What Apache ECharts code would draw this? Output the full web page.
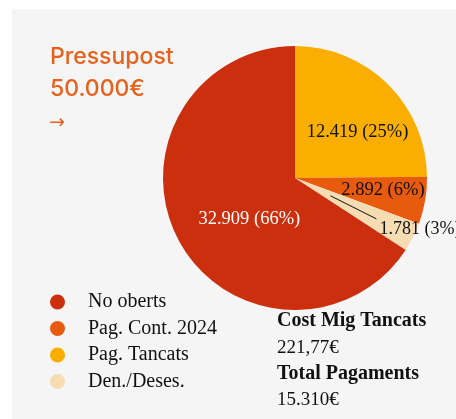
<!DOCTYPE html>
<html>
<head>
<meta charset="utf-8">
<script src="https://cdn.jsdelivr.net/npm/echarts@6/dist/echarts.min.js"></script>
<style>
html,body{margin:0;padding:0;background:#fff;}
#c{width:456px;height:419px;}
</style>
</head>
<body>
<div id="c"></div>
<script>
// Data (clockwise from top)
var categories = ['Pag. Tancats', 'Pag. Cont. 2024', 'Den./Deses.', 'No oberts'];
var values = [12419, 2892, 1781, 32909];
var valueLabels = ['12.419', '2.892', '1.781', '32.909'];
var percentLabels = ['25%', '6%', '3%', '66%'];
var legendOrder = ['No oberts', 'Pag. Cont. 2024', 'Pag. Tancats', 'Den./Deses.'];
var titleLines = ['Pressupost', '50.000€', '→'];
var infoLabels = ['Cost Mig Tancats', '221,77€', 'Total Pagaments', '15.310€'];

var colors = ['#f9ae00', '#e85a0e', '#f6dcb2', '#cb2f0e'];
var CENTER = [295, 178], R = 132;
var SERIF = '"Liberation Serif", "DejaVu Serif", serif';
var SANS = 'Inter, "Noto Sans", sans-serif';
var OUTSIDE_IDX = 2;

var total = values.reduce(function(a,b){return a+b;},0);
function midAngle(i){
  var start = 90, acc = 0;
  for (var k=0;k<i;k++) acc += values[k];
  var a0 = start - acc/total*360;
  var a1 = start - (acc+values[i])/total*360;
  return (a0+a1)/2*Math.PI/180;
}
function ptAt(i, f){
  var a = midAngle(i);
  return [CENTER[0] + Math.cos(a)*R*f, CENTER[1] - Math.sin(a)*R*f];
}
function fmt(p){ return valueLabels[p.dataIndex] + ' (' + percentLabels[p.dataIndex] + ')'; }

var labelOffsets = [[14,3],[20,0],[0,0],[15,8]];
var mainData = categories.map(function(c,i){
  var d = {name:c, value:values[i], itemStyle:{color:colors[i]}};
  if (i === OUTSIDE_IDX) {
    d.label = {show:false};
  } else {
    d.label = {position:'inside', offset:labelOffsets[i], color: i===3 ? '#fff' : '#111'};
  }
  d.labelLine = {show:false};
  return d;
});
// overlay (transparent) pie carrying the outside label with its guide line
var overlayData = categories.map(function(c,i){
  var d = {name:c, value:values[i], itemStyle:{color:'rgba(0,0,0,0)'}};
  if (i === OUTSIDE_IDX) {
    d.label = {show:true, position:'outside', color:'#111'};
    d.labelLine = {show:true, lineStyle:{color:'#111', width:1}};
  } else {
    d.label = {show:false};
    d.labelLine = {show:false};
  }
  return d;
});

var chart = echarts.init(document.getElementById('c'), null, {renderer:'canvas'});
var graphics = [
  {type:'rect', z:-10, shape:{x:12, y:9, width:444, height:410}, style:{fill:'#f5f5f5'}},
  {type:'text', left:50, top:46, style:{text:titleLines[0], font:'500 23px ' + SANS, fill:'#e8611c'}},
  {type:'text', left:50, top:78, style:{text:titleLines[1], font:'500 23px ' + SANS, fill:'#e8611c'}},
  {type:'text', left:49, top:114, style:{text:titleLines[2], font:'400 19px "DejaVu Sans", sans-serif', fill:'#e8611c'}},
  {type:'text', left:277, top:311, style:{text:infoLabels[0], font:'bold 20px ' + SERIF, fill:'#111'}},
  {type:'text', left:277, top:339, style:{text:infoLabels[1], font:'19px ' + SERIF, fill:'#111'}},
  {type:'text', left:277, top:364, style:{text:infoLabels[2], font:'bold 20px ' + SERIF, fill:'#111'}},
  {type:'text', left:277, top:391, style:{text:infoLabels[3], font:'19px ' + SERIF, fill:'#111'}}
];

chart.setOption({
  animation:false,
  backgroundColor:'transparent',
  graphic: graphics,
  legend:{
    data: legendOrder,
    orient:'vertical',
    left:50, top:292,
    padding:0,
    icon:'circle',
    itemWidth:15, itemHeight:15,
    itemGap:6.5,
    textStyle:{fontFamily:SERIF, fontSize:20, color:'#111', padding:[0,0,0,18]},
    selectedMode:false
  },
  series:[{
    type:'pie',
    center:CENTER,
    radius:R,
    startAngle:90,
    clockwise:true,
    avoidLabelOverlap:false,
    label:{show:true, fontFamily:SERIF, fontSize:18.5, formatter:fmt},
    itemStyle:{borderWidth:0},
    emphasis:{disabled:true},
    data:mainData
  },{
    type:'pie',
    center:CENTER,
    radius:R,
    startAngle:90,
    clockwise:true,
    silent:true,
    z:5,
    avoidLabelOverlap:false,
    label:{fontFamily:SERIF, fontSize:18, formatter:fmt},
    labelLayout:function(p){
      if (p.dataIndex !== OUTSIDE_IDX) return {};
      var p1 = ptAt(OUTSIDE_IDX, 0.3), p2 = ptAt(OUTSIDE_IDX, 0.69);
      return {x:p2[0]+3, y:p2[1]+10, align:'left', verticalAlign:'middle', labelLinePoints:[p1, p2, p2]};
    },
    itemStyle:{borderWidth:0},
    emphasis:{disabled:true},
    data:overlayData
  }]
});
</script>
</body>
</html>
